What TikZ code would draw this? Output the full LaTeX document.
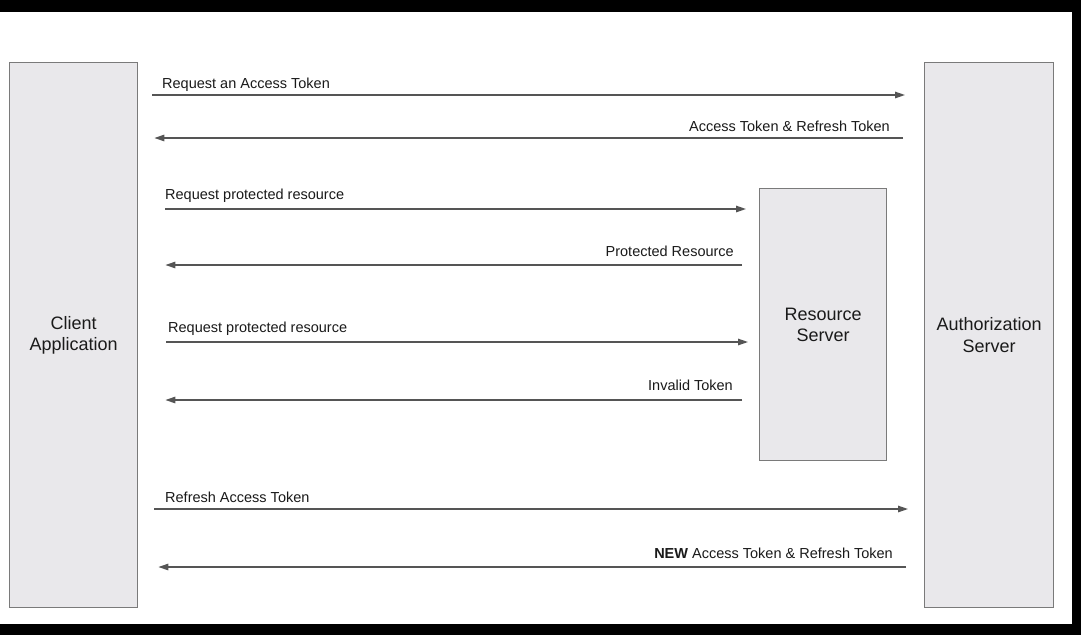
\documentclass[tikz,border=0pt]{standalone}
\usepackage{fontspec}
\setmainfont{Liberation Sans}
\usetikzlibrary{arrows.meta}
\definecolor{boxfill}{HTML}{E9E8EB}
\definecolor{boxline}{HTML}{7A7A7A}
\definecolor{arrline}{HTML}{555555}
\definecolor{txt}{HTML}{1A1A1A}
\tikzset{
  actor/.style={draw=boxline, fill=boxfill, line width=1.4pt, inner sep=0pt, anchor=north west,
    align=center, text=txt, font=\fontsize{18}{21.5}\selectfont},
  arr/.style={draw=arrline, line width=1.3pt, -{Triangle[length=10pt,width=6.5pt]}},
  lbl/.style={text=txt, font=\fontsize{14.5}{17}\selectfont, inner sep=0pt}
}
\begin{document}
\begin{tikzpicture}[x=1pt,y=-1pt]
\fill[black] (0,0) rectangle (1081,635);
\fill[white] (0,12) rectangle (1072,624);
\useasboundingbox (0,0) rectangle (1081,635);

\node[actor, minimum width=128pt, minimum height=545pt] (client) at (9,62) {Client\\Application};
\node[actor, minimum width=129pt, minimum height=545pt] (auth) at (924,62) {Authorization\\Server};
\node[actor, minimum width=127pt, minimum height=272pt] (res) at (759,188) {Resource\\Server};

% 1
\draw[arr, shorten <=14pt, shorten >=19pt] (client.east |- 0,95) -- (auth.west |- 0,95);
\node[lbl, anchor=base west] (l1) at (162,88) {Request an Access Token};
% 2
\draw[arr, shorten <=21pt, shorten >=16pt] (auth.west |- 0,138) -- (client.east |- 0,138);
\node[lbl, anchor=base east] (l2) at (890,131) {Access Token \& Refresh Token};
% 3
\draw[arr, shorten <=27pt, shorten >=13pt] (client.east |- 0,209) -- (res.west |- 0,209);
\node[lbl, anchor=base west] (l3) at (165,199) {Request protected resource};
% 4
\draw[arr, shorten <=17pt, shorten >=27pt] (res.west |- 0,265) -- (client.east |- 0,265);
\node[lbl, anchor=base east] (l4) at (734,256) {Protected Resource};
% 5
\draw[arr, shorten <=28pt, shorten >=11pt] (client.east |- 0,342) -- (res.west |- 0,342);
\node[lbl, anchor=base west] (l5) at (168,332) {Request protected resource};
% 6
\draw[arr, shorten <=17pt, shorten >=27pt] (res.west |- 0,400) -- (client.east |- 0,400);
\node[lbl, anchor=base east] (l6) at (733,390) {Invalid Token};
% 7
\draw[arr, shorten <=16pt, shorten >=16pt] (client.east |- 0,509) -- (auth.west |- 0,509);
\node[lbl, anchor=base west] (l7) at (165,502) {Refresh Access Token};
% 8
\draw[arr, shorten <=18pt, shorten >=20pt] (auth.west |- 0,567) -- (client.east |- 0,567);
\node[lbl, anchor=base east] (l8) at (893,558) {\textbf{NEW} Access Token \& Refresh Token};
\end{tikzpicture}
\end{document}
